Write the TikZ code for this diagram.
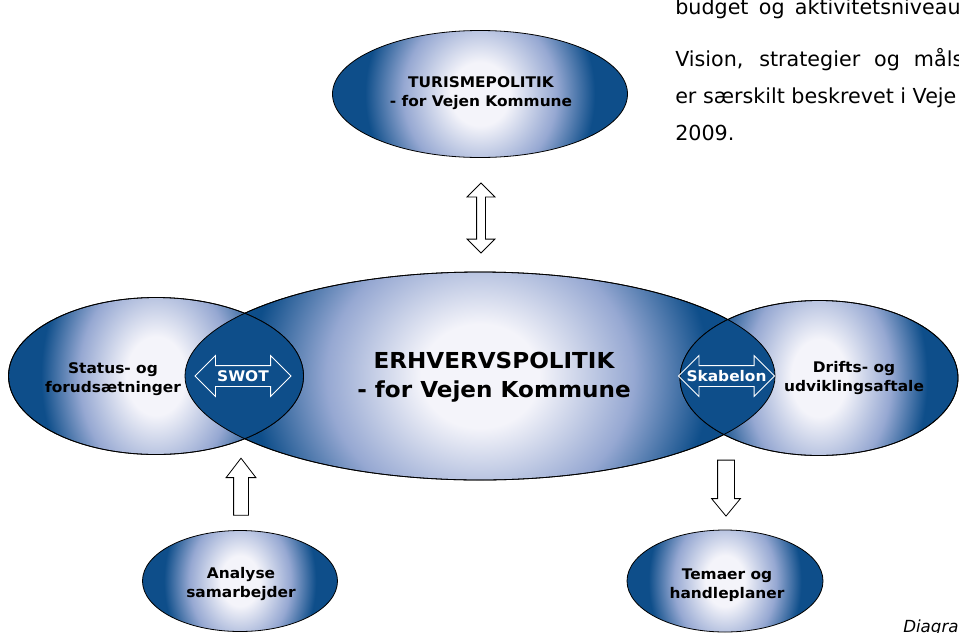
\documentclass[tikz,border=0pt]{standalone}
\usepackage{fontspec}
\usepackage{tikz}
\usetikzlibrary{shapes.geometric,shapes.arrows}
\newfontfamily\labelfont{DejaVu Sans}[FakeStretch=1.05]
\newfontfamily\bodyfont{DejaVu Sans}
\definecolor{lensblue}{RGB}{14,78,138}
\definecolor{ellmid}{RGB}{150,168,210}
\definecolor{ellcore}{RGB}{244,244,250}
\pgfdeclareradialshading{ellrad}{\pgfpoint{0bp}{0bp}}{color(0bp)=(ellcore); color(5bp)=(ellcore);
  color(13bp)=(ellmid); color(19.5bp)=(lensblue); color(25bp)=(lensblue); color(50bp)=(lensblue)}
\tikzset{ell/.style 2 args={ellipse,draw,line width=0.6pt,inner sep=0pt,minimum width=#1,minimum height=#2,
    path picture={\shade[shading=ellrad] (path picture bounding box.center) ellipse [x radius=#1/2,y radius=1.25*#2];}},
  lbl/.style={font=\labelfont\bfseries\fontsize{11}{14.5}\selectfont,align=center,inner sep=0pt},
  blk/.style={draw,fill=white,line width=0.6pt,inner xsep=0pt},
  lensarrow/.style={double arrow,draw=white,line width=0.6pt,inner xsep=0pt,inner ysep=7.5pt,
    minimum height=72pt,minimum width=30pt,double arrow head extend=7.5pt},
  lenstext/.style={font=\labelfont\bfseries\fontsize{11}{12}\selectfont,text=white,inner sep=0pt},
  body/.style={font=\bodyfont\fontsize{15.5}{20}\selectfont,anchor=base west,inner sep=0pt}}

\begin{document}
\begin{tikzpicture}[x=0.75pt,y=-0.75pt]
    \useasboundingbox (0,0) rectangle (959,632);
    \clip (0,0) rectangle (959,632);

    \node[ell={221.25pt}{95.25pt}] (turisme) at (480,94) {};
    \node[ell={442.5pt}{156pt}] (erhverv) at (480,376) {};
    \node[ell={221.25pt}{117.75pt}] (status) at (156,376) {};
    \node[ell={208.5pt}{116.25pt}] (drift) at (819,378) {};
    \node[ell={146.25pt}{75.75pt}] (analyse) at (240,581) {};
    \node[ell={147pt}{76.5pt}] (temaer) at (725,581) {};

    % overlaps
    \begin{scope}
        \clip (status.center) ellipse [x radius=110.625pt,y radius=58.875pt];
        \fill[lensblue] (erhverv.center) ellipse [x radius=221.25pt,y radius=78pt];
    \end{scope}
    \begin{scope}
        \clip (drift.center) ellipse [x radius=104.25pt,y radius=58.125pt];
        \fill[lensblue] (erhverv.center) ellipse [x radius=221.25pt,y radius=78pt];
    \end{scope}
    \draw[line width=0.6pt] (erhverv.center) ellipse [x radius=221.25pt,y radius=78pt];
    \draw[line width=0.6pt] (status.center) ellipse [x radius=110.625pt,y radius=58.875pt];
    \draw[line width=0.6pt] (drift.center) ellipse [x radius=104.25pt,y radius=58.125pt];

    \node[lbl] (turismetxt) at (481,93) {TURISMEPOLITIK\\- for Vejen Kommune};
    \node[lbl,font=\labelfont\bfseries\fontsize{16.5}{22}\selectfont] (erhvervtxt) at (494,377) {ERHVERVSPOLITIK\\- for Vejen Kommune};
    \node[lbl] (statustxt) at (113,379) {Status- og\\forudsætninger};
    \node[lbl] (drifttxt) at (854,378) {Drifts- og\\udviklingsaftale};
    \node[lbl] (analysetxt) at (241,584) {Analyse\\samarbejder};
    \node[lbl] (temaertxt) at (727,585) {Temaer og\\handleplaner};

    \node[lensarrow,label={[lenstext]center:SWOT}] (swot) at (243,376) {};
    \node[lensarrow,label={[lenstext]center:Skabelon}] (skabelon) at (726.5,376) {};
    \node[blk,double arrow,rotate=90,inner ysep=3pt,minimum height=52.5pt,minimum width=20.25pt,
        double arrow head extend=7.125pt] (link) at (481,218) {};
    \node[blk,single arrow,rotate=90,inner ysep=5.25pt,minimum height=42.75pt,minimum width=21.75pt,
        single arrow head extend=5.625pt,single arrow tip angle=75] (up) at (241,491.5) {};
    \node[blk,single arrow,rotate=-90,inner ysep=6pt,minimum height=42pt,minimum width=21pt,
        single arrow head extend=4.5pt,single arrow tip angle=79] (down) at (726,483) {};

    \node[body] (line1) at (675,14) {\makebox[214pt][s]{budget og aktivitetsniveau}};
    \node[body] (line2) at (675,66) {\makebox[216pt][s]{Vision, strategier og måls}};
    \node[body] (line3) at (675,103) {er særskilt beskrevet i Veje};
    \node[body] (line4) at (675,140) {2009.};
    \node[body,font=\bodyfont\itshape\fontsize{12.5}{14}\selectfont] (caption) at (903,632) {Diagra};
\end{tikzpicture}
\end{document}
